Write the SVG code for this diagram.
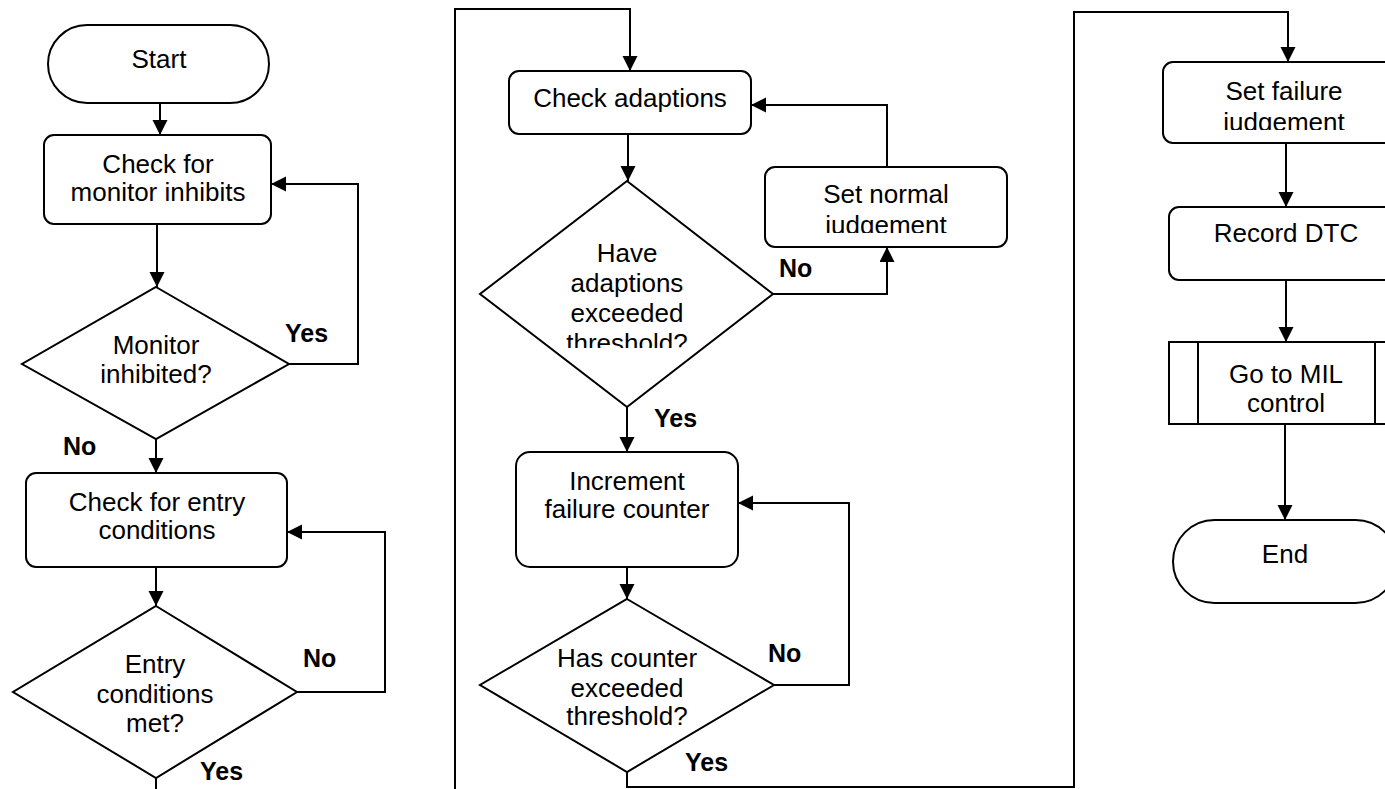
<svg xmlns="http://www.w3.org/2000/svg" width="1385" height="789" viewBox="0 0 1385 789">
<style>
.s{fill:#fff;stroke:#000;stroke-width:2}
.t{font-family:"Liberation Sans",Arial,sans-serif;font-size:26px;text-anchor:middle;fill:#000}
.l{font-family:"Liberation Sans",Arial,sans-serif;font-size:25px;font-weight:bold;fill:#000}
.c{fill:none;stroke:#000;stroke-width:2}
</style>
<defs>
<marker id="ah" markerUnits="userSpaceOnUse" markerWidth="16" markerHeight="16" refX="15" refY="7.5" orient="auto">
<path d="M0,0 L15,7.5 L0,15 z" fill="#000"/>
</marker>
<clipPath id="c1"><rect x="470" y="0" width="320" height="348"/></clipPath>
<clipPath id="c2"><rect x="760" y="160" width="250" height="73"/></clipPath>
<clipPath id="c3"><rect x="1160" y="60" width="230" height="70"/></clipPath>
</defs>
<rect width="1385" height="789" fill="#fff"/>
<g id="connectors">
<path class="c" d="M160,103 V135" marker-end="url(#ah)"/>
<path class="c" d="M157,224 V287" marker-end="url(#ah)"/>
<path class="c" d="M289,364 H358 V184 H271" marker-end="url(#ah)"/>
<path class="c" d="M156,439 V473" marker-end="url(#ah)"/>
<path class="c" d="M156,567 V606" marker-end="url(#ah)"/>
<path class="c" d="M297,692 H385 V532 H287" marker-end="url(#ah)"/>
<path class="c" d="M156,778 V789"/>
<path class="c" d="M455,789 V9 H630 V71" marker-end="url(#ah)"/>
<path class="c" d="M628,134 V181" marker-end="url(#ah)"/>
<path class="c" d="M773,294 H887 V247" marker-end="url(#ah)"/>
<path class="c" d="M887,167 V105 H751" marker-end="url(#ah)"/>
<path class="c" d="M627,407 V452" marker-end="url(#ah)"/>
<path class="c" d="M627,567 V599" marker-end="url(#ah)"/>
<path class="c" d="M774,685 H849 V503 H738" marker-end="url(#ah)"/>
<path class="c" d="M627,772 V787 H1074 V12 H1288 V62" marker-end="url(#ah)"/>
<path class="c" d="M1286,143 V207" marker-end="url(#ah)"/>
<path class="c" d="M1286,280 V342" marker-end="url(#ah)"/>
<path class="c" d="M1285,424 V520" marker-end="url(#ah)"/>
</g>
<g id="start">
<rect class="s" x="48" y="25" width="221" height="78" rx="39" ry="39"/>
<text class="t" x="159" y="68">Start</text>
</g>
<g id="checkInhibits">
<rect class="s" x="44" y="135" width="227" height="89" rx="10" ry="10"/>
<text class="t" x="158" y="173">Check for</text>
<text class="t" x="158" y="201">monitor inhibits</text>
</g>
<g id="monitorInhibited">
<polygon class="s" points="156,287 289,364 156,439 22,364"/>
<text class="t" x="156" y="354">Monitor</text>
<text class="t" x="156" y="383">inhibited?</text>
</g>
<g id="checkEntry">
<rect class="s" x="26" y="473" width="261" height="94" rx="10" ry="10"/>
<text class="t" x="157" y="511">Check for entry</text>
<text class="t" x="157" y="539">conditions</text>
</g>
<g id="entryMet">
<polygon class="s" points="156,606 297,692 156,778 13,692"/>
<text class="t" x="155" y="673">Entry</text>
<text class="t" x="155" y="703">conditions</text>
<text class="t" x="155" y="732">met?</text>
</g>
<g id="checkAdaptions">
<rect class="s" x="509" y="71" width="242" height="63" rx="10" ry="10"/>
<text class="t" x="630" y="107">Check adaptions</text>
</g>
<g id="adaptionsExceeded">
<polygon class="s" points="627,181 773,294 627,407 480,294"/>
<text class="t" x="627" y="262">Have</text>
<text class="t" x="627" y="292">adaptions</text>
<text class="t" x="627" y="322">exceeded</text>
<text class="t" x="627" y="352" clip-path="url(#c1)">threshold?</text>
</g>
<g id="setNormal">
<rect class="s" x="765" y="167" width="242" height="80" rx="10" ry="10"/>
<text class="t" x="886" y="203">Set normal</text>
<text class="t" x="886" y="234" clip-path="url(#c2)">judgement</text>
</g>
<g id="incrementCounter">
<rect class="s" x="516" y="452" width="222" height="115" rx="14" ry="14"/>
<text class="t" x="627" y="490">Increment</text>
<text class="t" x="627" y="518">failure counter</text>
</g>
<g id="counterExceeded">
<polygon class="s" points="627,599 774,685 627,772 480,685"/>
<text class="t" x="627" y="667">Has counter</text>
<text class="t" x="627" y="697">exceeded</text>
<text class="t" x="627" y="725">threshold?</text>
</g>
<g id="setFailure">
<rect class="s" x="1163" y="62" width="250" height="81" rx="10" ry="10"/>
<text class="t" x="1284" y="100">Set failure</text>
<text class="t" x="1284" y="131" clip-path="url(#c3)">judgement</text>
</g>
<g id="recordDTC">
<rect class="s" x="1169" y="207" width="240" height="73" rx="10" ry="10"/>
<text class="t" x="1286" y="242">Record DTC</text>
</g>
<g id="goToMIL">
<rect class="s" x="1169" y="342" width="234" height="82"/>
<path class="c" d="M1198,342 V424 M1375,342 V424"/>
<text class="t" x="1286" y="383">Go to MIL</text>
<text class="t" x="1286" y="412">control</text>
</g>
<g id="end">
<rect class="s" x="1173" y="520" width="224" height="83" rx="41.5" ry="41.5"/>
<text class="t" x="1285" y="563">End</text>
</g>
<g id="labels">
<text class="l" x="285" y="342">Yes</text>
<text class="l" x="63" y="455">No</text>
<text class="l" x="303" y="667">No</text>
<text class="l" x="200" y="780">Yes</text>
<text class="l" x="779" y="277">No</text>
<text class="l" x="654" y="427">Yes</text>
<text class="l" x="768" y="662">No</text>
<text class="l" x="685" y="771">Yes</text>
</g>
</svg>
